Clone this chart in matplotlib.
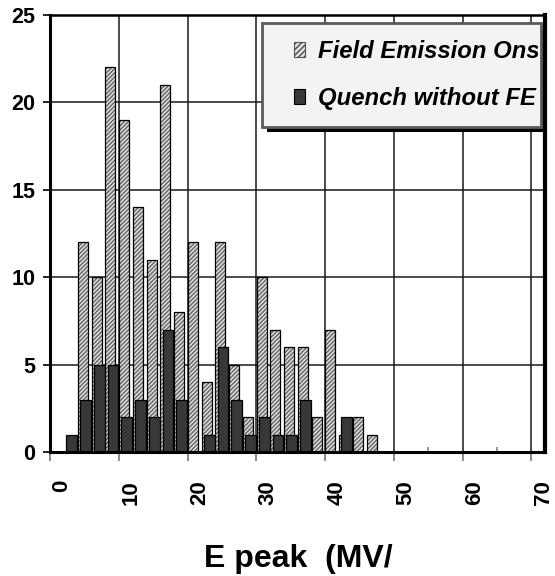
import numpy as np
import matplotlib
matplotlib.use('Agg')
import matplotlib.pyplot as plt
from matplotlib.patches import Rectangle
from matplotlib.transforms import ScaledTranslation

plt.rcParams['font.family'] = ['Liberation Sans', 'DejaVu Sans']
plt.rcParams['hatch.linewidth'] = 1.1

# histogram bins of E peak (MV/m), width 2
bin_centers = [1, 3, 5, 7, 9, 11, 13, 15, 17, 19, 21, 23,
               25, 27, 29, 31, 33, 35, 37, 39, 41, 43, 45, 47]
fe_onset = [0, 0, 12, 10, 22, 19, 14, 11, 21, 8, 12, 4,
            12, 5, 2, 10, 7, 6, 6, 2, 7, 1, 2, 1]
quench_no_fe = [0, 1, 3, 5, 5, 2, 3, 2, 7, 3, 0, 1,
                6, 3, 1, 2, 1, 1, 3, 0, 0, 2, 0, 0]
legend_labels = ['Field Emission Ons', 'Quench without FE']
xlabel = 'E peak  (MV/'

W, H = 555, 576
fig = plt.figure(figsize=(W / 100, H / 100), dpi=100)
ax = fig.add_axes([50 / W, 1 - 452 / H, 495 / W, 437 / H])


def fx(x):
    return x / W


def fy(y):
    return 1 - y / H


x = np.array(bin_centers, dtype=float)

# light hatched bars (FE onset), hatch drawn first, outline second
ax.bar(x - 0.22, fe_onset, width=1.45, facecolor='#e4e4e4',
       edgecolor='#6a6a6a', hatch='////////', linewidth=0, zorder=2)
ax.bar(x - 0.22, fe_onset, width=1.45, fill=False,
       edgecolor='black', linewidth=0.9, zorder=2.1)
# dark bars (quench without FE)
ax.bar(x + 0.15, quench_no_fe, width=1.57, facecolor='#383838',
       edgecolor='black', linewidth=0.9, zorder=3)

ax.set_xlim(0, 72)
ax.set_ylim(0, 25)
ax.set_xticks(np.arange(0, 71, 10))
ax.set_xticks(np.arange(5, 70, 10), minor=True)
ax.set_yticks(np.arange(0, 26, 5))
ax.grid(True, which='major', color='#1a1a1a', linewidth=1.1, zorder=0)
ax.set_axisbelow(True)

for side, lw in [('left', 2.2), ('bottom', 2.2), ('top', 1.8), ('right', 3.0)]:
    ax.spines[side].set_linewidth(lw)
    ax.spines[side].set_color('black')
    ax.spines[side].set_zorder(5)

ax.tick_params(axis='x', which='major', direction='out', length=6.5,
               width=1.2, color='#777777', pad=13.5, labelsize=16,
               labelrotation=90)
ax.tick_params(axis='x', which='minor', direction='in', length=3.5,
               width=1.2, color='#888888')
ax.tick_params(axis='y', direction='out', length=5, width=1.2,
               color='black', pad=5.5, labelsize=15.5)
for lab in ax.get_xticklabels() + ax.get_yticklabels():
    lab.set_fontweight('bold')
shift = ScaledTranslation(12 / 100, 0, fig.dpi_scale_trans)
for lab in ax.get_xticklabels():
    lab.set_transform(lab.get_transform() + shift)

fig.text(fx(204), fy(566.5), xlabel, fontsize=23, fontweight='bold',
         ha='left', va='baseline')

# legend box with shadow
fig.add_artist(Rectangle((fx(267), fy(132)), fx(280), 104 / H,
                         transform=fig.transFigure, facecolor='black',
                         edgecolor='none', zorder=10))
box = Rectangle((fx(262), fy(127)), fx(279), 104 / H,
                transform=fig.transFigure, facecolor='#f3f3f3',
                edgecolor='#5a5a5a', linewidth=2, zorder=11)
fig.add_artist(box)
fig.add_artist(Rectangle((fx(294), fy(56.5)), fx(11), 15 / H,
                         transform=fig.transFigure, facecolor='#e4e4e4',
                         edgecolor='#555555', hatch='//////', linewidth=0.8,
                         zorder=12))
fig.add_artist(Rectangle((fx(294), fy(104)), fx(11), 15 / H,
                         transform=fig.transFigure, facecolor='#383838',
                         edgecolor='black', linewidth=0.8, zorder=12))
# texts are cut at the inner edge of the legend frame
inner = Rectangle((fx(262), fy(127)), fx(276), 104 / H,
                  transform=fig.transFigure)
for label, yb in zip(legend_labels, [57.5, 104.5]):
    t = fig.text(fx(318), fy(yb), label, fontsize=17.2, fontweight='bold',
                 fontstyle='italic', ha='left', va='baseline', zorder=13)
    t.set_clip_path(inner)

fig.savefig('out.png', dpi=100)
